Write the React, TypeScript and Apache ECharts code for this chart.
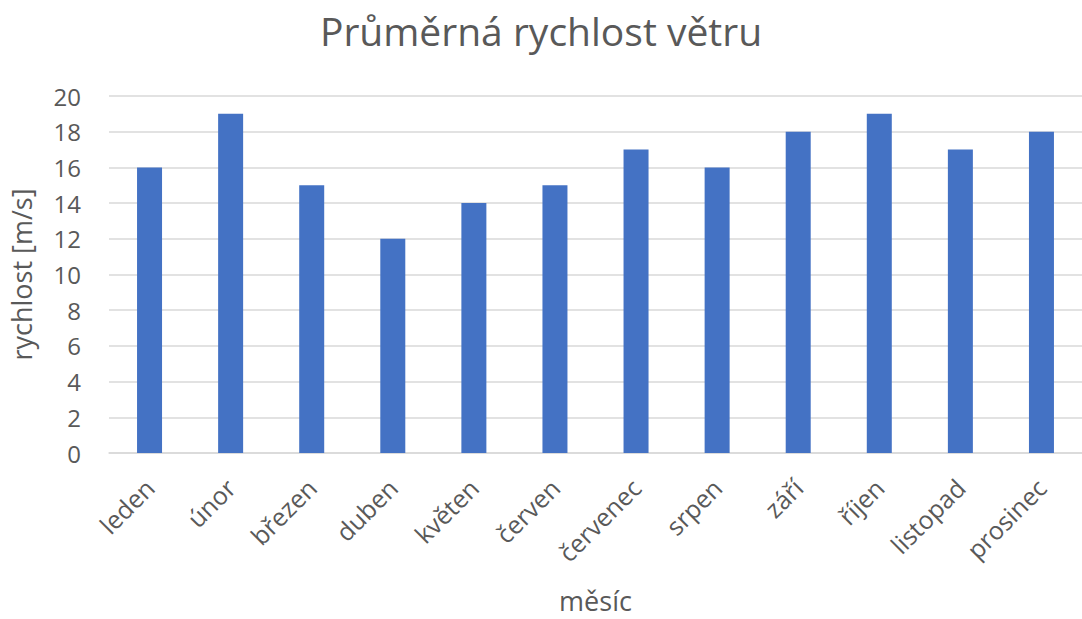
import React, { useEffect, useRef } from "react";
import * as echarts from "echarts";

const months = ["leden", "únor", "březen", "duben", "květen", "červen", "červenec", "srpen", "září", "říjen", "listopad", "prosinec"];
const speeds = [16, 19, 15, 12, 14, 15, 17, 16, 18, 19, 17, 18];
const titleText = "Průměrná rychlost větru";
const yName = "rychlost [m/s]";
const xName = "měsíc";

export default function App() {
  const ref = useRef<HTMLDivElement>(null);
  useEffect(() => {
    if (!ref.current) return;
    const chart = echarts.init(ref.current, null, { renderer: "svg" });
    const font = "'Open Sans', 'Noto Sans', sans-serif";
    chart.setOption({
      animation: false,
      backgroundColor: "#ffffff",
      title: {
        text: titleText,
        left: "center",
        top: 6,
        textStyle: { fontFamily: font, fontSize: 39, fontWeight: "normal", color: "#595959" },
      },
      grid: { left: 109, top: 96, width: 977, height: 361, containLabel: false },
      xAxis: {
        type: "category",
        data: months,
        name: xName,
        nameLocation: "middle",
        nameGap: 134,
        nameTextStyle: { fontFamily: font, fontSize: 27, color: "#595959" },
        axisLine: { lineStyle: { color: "#d9d9d9", width: 1.5 } },
        axisTick: { show: false },
        axisLabel: { rotate: 45, fontFamily: font, fontSize: 25, color: "#595959", margin: 30, interval: 0 },
      },
      yAxis: {
        type: "value",
        min: 0,
        max: 20,
        interval: 2,
        name: yName,
        nameLocation: "middle",
        nameGap: 74,
        nameTextStyle: { fontFamily: font, fontSize: 27, color: "#595959" },
        axisLine: { show: false },
        axisTick: { show: false },
        axisLabel: { fontFamily: font, fontSize: 24, color: "#595959", margin: 28 },
        splitLine: { lineStyle: { color: "#d9d9d9", width: 1.5 } },
      },
      series: [
        {
          type: "bar",
          data: speeds,
          barWidth: 25,
          itemStyle: { color: "#4472c4" },
        },
      ],
    });
    return () => chart.dispose();
  }, []);
  return <div ref={ref} style={{ position: "fixed", left: 0, top: 0, width: 1082, height: 619 }} />;
}
